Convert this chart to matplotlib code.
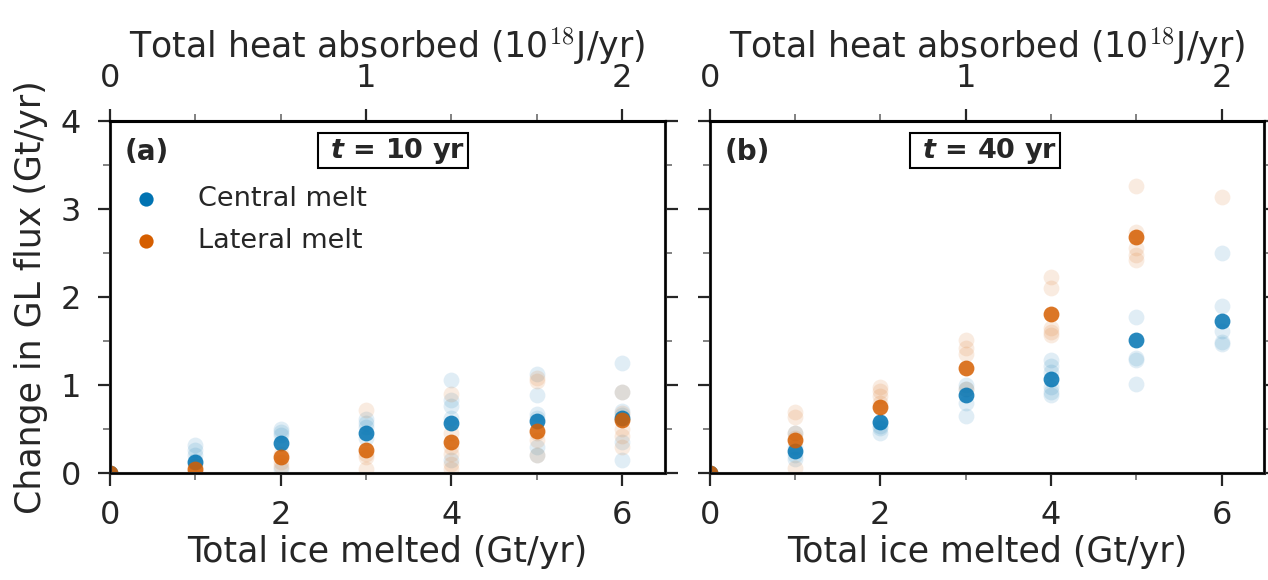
import matplotlib.pyplot as plt
import numpy as np
from matplotlib.ticker import MultipleLocator

plt.rcParams['font.family'] = ['DejaVu Sans']
plt.rcParams['mathtext.fontset'] = 'dejavusans'

DARK = '#262626'
BLUE = '#0173B2'
ORANGE = '#D55E00'

# total ice melted (Gt/yr)
melt_x = [0, 1, 2, 3, 4, 5, 6]

# mean change in GL flux (Gt/yr)
central_10 = [0, 0.12, 0.34, 0.45, 0.57, 0.59, 0.63]
lateral_10 = [0, 0.04, 0.18, 0.26, 0.35, 0.48, 0.60]
central_40 = [0, 0.25, 0.58, 0.89, 1.07, 1.51, 1.73]
lateral_40 = [0, 0.38, 0.75, 1.19, 1.81, 2.68, np.nan]

# individual runs, one list per melt value (x = 0..6)
central_10_runs = [[0], [0.32, 0.26, 0.20, 0.14], [0.50, 0.47, 0.43, 0.05],
                   [0.61, 0.57, 0.52, 0.40], [1.06, 0.83, 0.76, 0.62, 0.15],
                   [1.12, 0.89, 0.67, 0.63, 0.29, 0.20],
                   [1.25, 0.92, 0.70, 0.66, 0.35, 0.15]]
lateral_10_runs = [[0], [0.08, 0.03, 0.01], [0.22, 0.12, 0.08],
                   [0.72, 0.22, 0.18, 0.05], [0.90, 0.45, 0.30, 0.22, 0.10, 0.05],
                   [1.08, 1.05, 0.45, 0.38, 0.20],
                   [0.92, 0.68, 0.50, 0.42, 0.30]]
central_40_runs = [[0], [0.45, 0.30, 0.20, 0.16], [0.58, 0.54, 0.51, 0.46],
                   [1.00, 0.95, 0.80, 0.65], [1.28, 1.22, 1.15, 0.98, 0.92, 0.89],
                   [1.77, 1.31, 1.28, 1.01],
                   [2.50, 1.90, 1.62, 1.49, 1.47]]
lateral_40_runs = [[0], [0.69, 0.64, 0.45, 0.40, 0.06], [0.98, 0.93, 0.87, 0.80],
                   [1.51, 1.42, 1.35, 0.95], [2.23, 2.10, 1.65, 1.57, 1.60],
                   [3.26, 2.74, 2.56, 2.48, 2.42],
                   [3.14]]


def flatten(runs):
    xs, ys = [], []
    for x, vals in zip(melt_x, runs):
        xs += [x] * len(vals)
        ys += vals
    return xs, ys


fig, axes = plt.subplots(1, 2, figsize=(12.68, 5.8), dpi=100)
fig.subplots_adjust(left=0.0868, right=0.997, bottom=0.1845, top=0.791, wspace=0.081)

panels = [
    (axes[0], central_10, lateral_10, central_10_runs, lateral_10_runs, '(a)', '10', 0.51),
    (axes[1], central_40, lateral_40, central_40_runs, lateral_40_runs, '(b)', '40', 0.497),
]

TICK_FS = 23
LABEL_FS = 25
PAD = 10.5

for ax, cen, lat, cen_runs, lat_runs, letter, t, box_x in panels:
    x, y = flatten(cen_runs)
    ax.scatter(x, y, s=130, color=BLUE, alpha=0.12, lw=0)
    x, y = flatten(lat_runs)
    ax.scatter(x, y, s=130, color=ORANGE, alpha=0.12, lw=0)
    ax.scatter(melt_x, cen, s=130, color=BLUE, alpha=0.85, lw=0, label='Central melt')
    ax.scatter(melt_x, lat, s=130, color=ORANGE, alpha=0.85, lw=0, label='Lateral melt')

    ax.set_xlim(0, 6.5)
    ax.set_ylim(0, 4)
    ax.xaxis.set_major_locator(MultipleLocator(2))
    ax.xaxis.set_minor_locator(MultipleLocator(1))
    ax.yaxis.set_major_locator(MultipleLocator(1))
    ax.yaxis.set_minor_locator(MultipleLocator(0.5))
    ax.tick_params(which='both', direction='out', right=True, colors=DARK,
                   labelsize=TICK_FS, width=1.6, pad=PAD)
    ax.tick_params(axis='y', which='both', pad=12)
    ax.tick_params(which='major', length=9)
    ax.tick_params(which='minor', length=5, color='#777777', width=1.3)
    for sp in ax.spines.values():
        sp.set_linewidth(2.2)
        sp.set_color(DARK)
    ax.set_xlabel('Total ice melted (Gt/yr)', fontsize=LABEL_FS, color=DARK,
                  labelpad=3)

    top = ax.twiny()
    top.set_xlim(0, 6.5 / 3)
    top.xaxis.set_major_locator(MultipleLocator(1))
    top.xaxis.set_minor_locator(MultipleLocator(1 / 3))
    top.tick_params(which='both', direction='out', colors=DARK,
                    labelsize=TICK_FS, width=1.6, pad=PAD)
    top.tick_params(which='major', length=9)
    top.tick_params(which='minor', length=5, color='#777777', width=1.3)
    top.spines['top'].set_linewidth(2.2)
    top.set_xlabel('Total heat absorbed (10$^{18}$J/yr)', fontsize=LABEL_FS,
                   color=DARK, labelpad=4)
    top.xaxis.label.set_math_fontfamily('cm')

    ax.text(0.027, 0.912, letter, transform=ax.transAxes, fontsize=20,
            fontweight='bold', color=DARK, va='center', ha='left')
    ax.text(box_x, 0.916, r' $\mathbfit{t}$ = ' + t + ' yr ', transform=ax.transAxes,
            fontsize=19.5, fontweight='bold', color=DARK, va='center', ha='center',
            bbox=dict(boxstyle='square,pad=0.1', fc='white', ec='black', lw=1.5))

axes[0].set_ylabel('Change in GL flux (Gt/yr)', fontsize=LABEL_FS, color=DARK,
                   labelpad=9)
axes[1].tick_params(labelleft=False)

leg = axes[0].legend(loc='upper left', bbox_to_anchor=(-0.018, 0.87), frameon=False,
                     fontsize=19.5, markerscale=0.9, handletextpad=0.9,
                     labelspacing=0.6, borderaxespad=0.3)
for txt in leg.get_texts():
    txt.set_color(DARK)
for h in leg.legend_handles:
    h.set_alpha(1)

fig.savefig('out.png', dpi=100)
